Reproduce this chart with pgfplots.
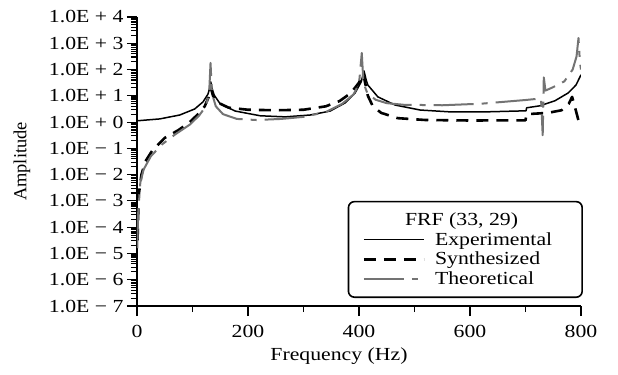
\documentclass[border=0pt]{standalone}
\usepackage{pgfplots}
\pgfplotsset{compat=1.18}
\usepackage{graphicx}
\usepackage{fontspec}
\setmainfont{Liberation Serif}
\newcommand{\hs}[1]{\scalebox{1.18}[1]{#1}}
\begin{document}
\begin{tikzpicture}[font=\fontsize{18.5}{20}\selectfont]
\useasboundingbox (-137bp,-69bp) rectangle (481bp,306bp);
\begin{axis}[
  at={(0,0)}, anchor=south west,
  scale only axis, width=444bp, height=289bp,
  xmin=0, xmax=800, ymin=1e-7, ymax=1e4,
  ymode=log,
  axis x line=bottom, axis y line=left,
  axis line style={-, line width=1.8bp},
  tick align=outside,
  major tick length=10bp, minor tick length=6bp,
  every tick/.style={black, line width=1.1bp},
  xtick={0,200,400,600,800},
  xticklabels={\hs{0},\hs{200},\hs{400},\hs{600},\hs{800}},
  xticklabel shift=6bp,
  minor xtick={100,300,500,700},
  ytick={1e-7,1e-6,1e-5,1e-4,1e-3,1e-2,1e-1,1e0,1e1,1e2,1e3,1e4},
  yticklabels={\hs{1.0E − 7},\hs{1.0E − 6},\hs{1.0E − 5},\hs{1.0E − 4},\hs{1.0E − 3},\hs{1.0E − 2},\hs{1.0E − 1},\hs{1.0E + 0},\hs{1.0E + 1},\hs{1.0E + 2},\hs{1.0E + 3},\hs{1.0E + 4}},
  minor ytick={2e-7,3e-7,4e-7,5e-7,6e-7,7e-7,8e-7,9e-7,
    2e-6,3e-6,4e-6,5e-6,6e-6,7e-6,8e-6,9e-6,
    2e-5,3e-5,4e-5,5e-5,6e-5,7e-5,8e-5,9e-5,
    2e-4,3e-4,4e-4,5e-4,6e-4,7e-4,8e-4,9e-4,
    2e-3,3e-3,4e-3,5e-3,6e-3,7e-3,8e-3,9e-3,
    2e-2,3e-2,4e-2,5e-2,6e-2,7e-2,8e-2,9e-2,
    2e-1,3e-1,4e-1,5e-1,6e-1,7e-1,8e-1,9e-1,
    2,3,4,5,6,7,8,9,20,30,40,50,60,70,80,90,
    200,300,400,500,600,700,800,900,2000,3000,4000,5000,6000,7000,8000,9000},
  xlabel={\hs{Frequency (Hz)}},
  xlabel style={at={(axis description cs:0.455,-0.187)}, anchor=base},
  ylabel={Amplitude},
  ylabel style={at={(axis description cs:-0.259,0.5)}, anchor=center},
  legend style={at={(1,0)}, anchor=south east, xshift=2bp, yshift=8bp,
    draw=black, line width=1.6bp, rounded corners=6bp,
    inner xsep=14bp, inner ysep=9bp, cells={anchor=west},
    row sep=1.5bp, column sep=8bp},
  legend image code/.code={\draw[#1] (0bp,0bp) -- (60bp,0bp);},
]
\addlegendimage{empty legend}
\addlegendentry{\hspace*{-30bp}\hs{FRF (33, 29)}\rule[-7bp]{0pt}{1bp}}
\addplot[black, line width=1.5bp, line join=round] coordinates {
(0,1.12)(41,1.32)(77,1.86)(104,3.16)(119,5.89)(128,11.7)(131,20)(133,33.9)(135,20)(139,10.7)(150,4.9)(177,2.63)(222,1.74)(267,1.58)(312,1.86)(348,2.63)(375,5.37)(393,12.9)(404,33.9)(409,89)(413,40)(416,25.7)(434,9.12)(465,4.47)(510,2.88)(564,2.45)(629,2.45)(701,2.69)(702,3.5)(726,4.17)(753,6.46)(777,12.9)(791,25.7)(800,63.1)
};
\addlegendentry{\hs{Experimental}\hspace*{14bp}}
\addplot[black, line width=2.6bp, dash pattern=on 12bp off 8bp, line join=round] coordinates {
(1,3.16e-5)(3,1.58e-3)(8,0.01)(15,0.0316)(27,0.0794)(50,0.251)(75,0.501)(95,1)(110,2.0)(122,3.98)(129,8.91)(133,20)(137,10)(145,5.62)(165,3.55)(200,2.95)(250,2.82)(300,2.95)(340,3.98)(365,6.31)(385,12.6)(400,31.6)(407,70.8)(410,39.8)(416,10)(425,3.98)(440,2.24)(470,1.41)(520,1.20)(600,1.15)(700,1.17)(702,2.0)(740,2.24)(765,2.82)(778,5.01)(784,9.12)(790,3.16)(795,1.26)(800,0.708)
};
\addlegendentry{\hs{Synthesized}}
\addplot[black!55, line width=2bp, dash pattern=on 40bp off 8bp on 6bp off 8bp, line join=round] coordinates {
(0.5,1.58e-5)(2,3.16e-4)(6,5.01e-3)(12,0.0158)(25,0.0501)(45,0.141)(70,0.355)(95,0.794)(112,1.78)(124,3.98)(130,12.6)(132.5,178)(135,12.6)(142,3.98)(155,2.0)(180,1.32)(215,1.20)(260,1.32)(300,1.58)(340,2.40)(370,5.01)(390,11.2)(400,28.2)(405,427)(408,31.6)(415,12.6)(430,7.08)(450,5.25)(480,4.57)(550,4.37)(620,5.01)(700,6.92)(728,7.94)(731,0.316)(733,50.1)(736,15.8)(750,21.4)(770,35.5)(785,100)(792,316)(795.5,1585)(798,200)(800,100)
};
\addlegendentry{\hs{Theoretical}}
\end{axis}
\end{tikzpicture}
\end{document}
